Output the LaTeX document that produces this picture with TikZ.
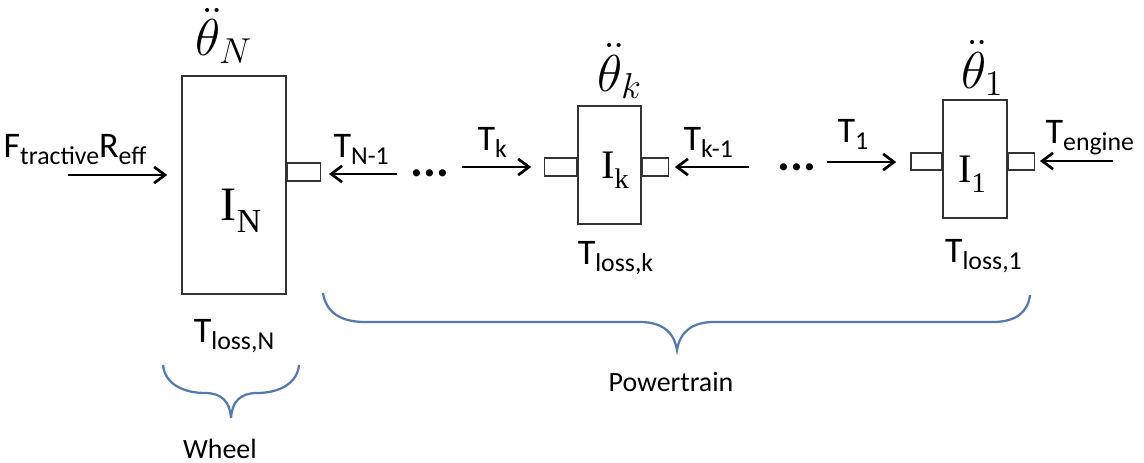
\documentclass[tikz,border=0pt]{standalone}
\usepackage{fontspec}
\setmainfont{Carlito}
\newfontfamily\romain{Liberation Serif}
\usetikzlibrary{arrows.meta, positioning}
\definecolor{trait}{HTML}{333333}
\definecolor{accolade}{HTML}{5679AE}
\newcommand{\indice}[1]{\raisebox{-2.5pt}{\fontsize{8.6}{9}\selectfont #1}}
\newcommand{\inertie}[1]{{\romain I\raisebox{-0.25em}{\fontsize{0.7em}{1em}\selectfont #1}}}
\tikzset{
  masse/.style={rectangle, draw=trait, fill=white, line width=0.4pt, inner sep=0pt},
  arbre/.style={rectangle, draw=trait, fill=white, line width=0.4pt, inner sep=0pt,
    minimum height=6pt},
  fleche/.style={-{Straight Barb[length=3.6pt, width=5.4pt]}, line width=0.9pt},
  etiquette/.style={font=\fontsize{12}{14}\selectfont, inner sep=0pt},
  vitesse/.style={font=\fontsize{16.5}{18}\selectfont, inner sep=0pt},
  points/.style={font=\fontsize{16}{18}\selectfont\bfseries, inner sep=0pt},
  groupe/.style={font=\fontsize{9.3}{11}\selectfont, inner sep=0pt},
  accol/.style={draw=accolade, line width=0.75pt}
}

\begin{document}
\begin{tikzpicture}[x=0.3333pt, y=-0.3333pt]
    \useasboundingbox (0,0) rectangle (1144,463);

    % roue et deux elements de la chaine
    \node[masse, minimum width=34.7pt, minimum height=72.7pt] (mN) at (234,185) {};
    \node[masse, minimum width=21pt, minimum height=39.3pt] (mk) at (609.5,165) {};
    \node[masse, minimum width=21.3pt, minimum height=39.3pt] (m1) at (975,159) {};

    \node[arbre, minimum width=11pt, anchor=west] (aN) at (mN.east |- 0,172) {};
    \node[arbre, minimum width=10.7pt, anchor=east] (akg) at (mk.west |- 0,167) {};
    \node[arbre, minimum width=8.7pt, anchor=west] (akd) at (mk.east |- 0,167) {};
    \node[arbre, minimum width=10.3pt, minimum height=5.7pt, anchor=east] (a1g) at (m1.west |- 0,161.5) {};
    \node[arbre, minimum width=8.7pt, minimum height=5.7pt, anchor=west] (a1d) at (m1.east |- 0,161.5) {};

    \node[inner sep=0pt, font=\fontsize{16}{17}\selectfont] (iN) at ([xshift=2.3pt, yshift=-8.7pt]mN.center) {\inertie{N}};
    \node[inner sep=0pt, font=\fontsize{13.5}{15}\selectfont] (ik) at ([xshift=1.8pt, yshift=-1.7pt]mk.center) {\inertie{k}};
    \node[inner sep=0pt, font=\fontsize{13.5}{15}\selectfont] (i1) at ([xshift=-1pt, yshift=-5pt]m1.center) {\inertie{1}};

    \node[vitesse, above=3.7pt of mN, xshift=-3.3pt] (vN) {$\ddot{\theta}_N$};
    \node[vitesse, above=2pt of mk, xshift=3.5pt] (vk) {$\ddot{\theta}_k$};
    \node[vitesse, above=1pt of m1, xshift=2.5pt] (v1) {$\ddot{\theta}_1$};

    \node[etiquette, below=8pt of mN] (pN) {T\indice{loss,N}};
    \node[etiquette, below=5.3pt of mk, xshift=2pt] (pk) {T\indice{loss,k}};
    \node[etiquette, below=6.7pt of m1, xshift=2.8pt] (p1) {T\indice{loss,1}};

    % couples
    \coordinate (dF) at (68,175);
    \coordinate (dN1) at (397,174);
    \coordinate (dk) at (462,167);
    \coordinate (dk1) at (749,167);
    \coordinate (d1) at (827,162);
    \coordinate (de) at (1113,161);
    \draw[fleche, shorten >=4.7pt] (dF) -- (dF -| mN.west);
    \draw[fleche, shorten >=2.7pt] (dN1) -- (dN1 -| aN.east);
    \draw[fleche, shorten >=4.3pt] (dk) -- (dk -| akg.west);
    \draw[fleche, shorten >=2pt] (dk1) -- (dk1 -| akd.east);
    \draw[fleche, shorten >=4.7pt] (d1) -- (d1 -| a1g.west);
    \draw[fleche, shorten >=1.7pt] (de) -- (de -| a1d.east);

    \node[etiquette, anchor=base west] (lF) at (3,157) {F\indice{tractive}R\indice{eff}};
    \node[etiquette, anchor=base west] (lN1) at (333,157) {T\indice{N-1}};
    \node[etiquette, anchor=base west] (lk) at (477,150) {T\indice{k}};
    \node[etiquette, anchor=base west] (lk1) at (683,150) {T\indice{k-1}};
    \node[etiquette, anchor=base west] (l1) at (837,142) {T\indice{1}};
    \node[etiquette, anchor=base west] (le) at (1045,143) {T\indice{engine}};

    \node[points] (pt1) at (430,173) {...};
    \node[points] (pt2) at (797,167) {...};

    % accolades
    \coordinate (pointeW) at (231,418);
    \coordinate (pointeP) at (677,350);
    \draw[accol] (163,365) .. controls (165,385) and (185,393) .. (205,393)
      .. controls (222,393) and (230,402) .. (pointeW)
      .. controls (232,402) and (240,393) .. (257,393)
      .. controls (277,393) and (297,385) .. (299,365);
    \draw[accol] (323,293) .. controls (326,312) and (340,322) .. (365,322) -- (640,322)
      .. controls (662,322) and (674,332) .. (pointeP)
      .. controls (680,332) and (692,322) .. (714,322) -- (993,322)
      .. controls (1016,322) and (1028,312) .. (1030,295);
    \node[groupe, below=7pt of pointeW, xshift=-3.7pt] (gW) {Wheel};
    \node[groupe, below=7.3pt of pointeP, xshift=-2pt] (gP) {Powertrain};
\end{tikzpicture}
\end{document}
